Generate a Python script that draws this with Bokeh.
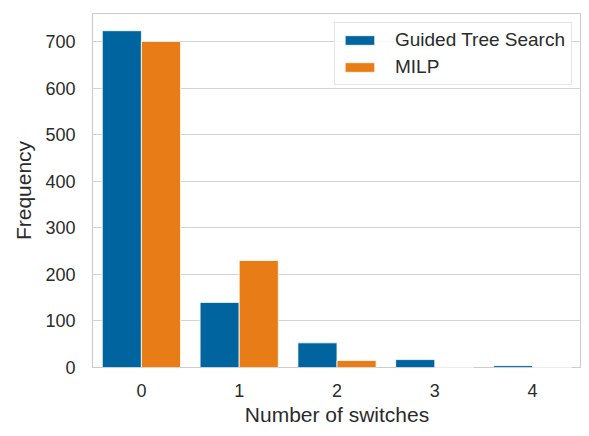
from bokeh.plotting import figure
from bokeh.models import ColumnDataSource, Range1d, FixedTicker, Legend, LegendItem
from bokeh.transform import dodge
from bokeh.embed import file_html
from bokeh.resources import INLINE

categories = [0, 1, 2, 3, 4]
gts_counts = [724, 140, 53, 17, 4]
milp_counts = [701, 230, 15, 0, 0]
series_names = ["Guided Tree Search", "MILP"]
y_ticks = [0, 100, 200, 300, 400, 500, 600, 700]

BLUE = "#00649F"
ORANGE = "#E87C17"
TXT = "#2b2b2b"
FONT = "Liberation Sans"

src = ColumnDataSource(dict(x=categories, gts=gts_counts, milp=milp_counts))

p = figure(width=581, height=428, output_backend="svg", toolbar_location=None,
           x_range=Range1d(-0.5, 4.5), y_range=Range1d(0, 761),
           min_border=0, min_border_left=92, min_border_right=0, min_border_top=13, min_border_bottom=40)

r1 = p.vbar(x=dodge("x", -0.2, range=p.x_range), top="gts", width=0.4, source=src,
            fill_color=BLUE, line_color="white", line_width=0.8)
r2 = p.vbar(x=dodge("x", 0.2, range=p.x_range), top="milp", width=0.4, source=src,
            fill_color=ORANGE, line_color="white", line_width=0.8)

p.outline_line_color = "#cccccc"
p.outline_line_width = 1.2
p.background_fill_color = "white"
p.border_fill_color = "white"

p.xgrid.grid_line_color = None
p.ygrid.grid_line_color = "#d4d4d4"
p.ygrid.grid_line_width = 1.2

p.xaxis.ticker = FixedTicker(ticks=categories)
p.yaxis.ticker = FixedTicker(ticks=y_ticks)

for ax in (p.xaxis, p.yaxis):
    ax.axis_line_color = None
    ax.major_tick_line_color = None
    ax.minor_tick_line_color = None
    ax.major_tick_out = 0
    ax.major_tick_in = 0
    ax.minor_tick_out = 0
    ax.minor_tick_in = 0
    ax.major_label_text_font = FONT
    ax.major_label_text_font_size = "18px"
    ax.major_label_text_color = TXT
    ax.axis_label_text_font = FONT
    ax.axis_label_text_font_size = "21px"
    ax.axis_label_text_font_style = "normal"
    ax.axis_label_text_color = TXT

p.xaxis.axis_label = "Number of switches"
p.yaxis.axis_label = "Frequency"
p.xaxis.major_label_standoff = 16
p.yaxis.major_label_standoff = 17
p.xaxis.axis_label_standoff = 3
p.yaxis.axis_label_standoff = 7

legend = Legend(items=[LegendItem(label=series_names[0], renderers=[r1]),
                       LegendItem(label=series_names[1], renderers=[r2])],
                location="top_right")
legend.margin = 9
legend.padding = 6
legend.spacing = 5
legend.glyph_width = 37
legend.glyph_height = 12
legend.label_height = 20
legend.label_standoff = 17
legend.label_text_font = FONT
legend.label_text_font_size = "19px"
legend.label_text_color = TXT
legend.border_line_color = "#cccccc"
legend.border_line_width = 1
legend.background_fill_alpha = 0.85
p.add_layout(legend, "center")

open("out.html", "w").write(file_html(p, INLINE))
